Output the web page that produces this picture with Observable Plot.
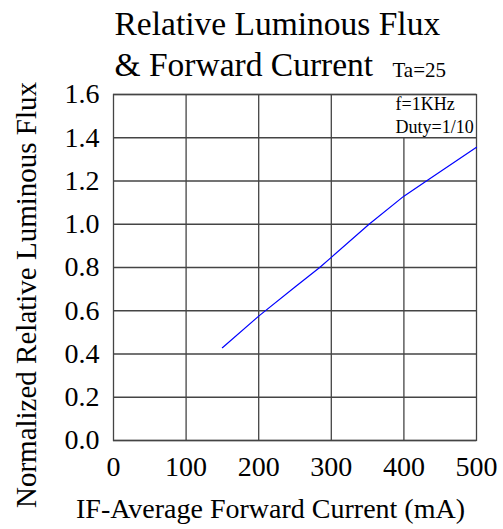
<!DOCTYPE html>
<html>
<head>
<meta charset="utf-8">
<script src="https://cdn.jsdelivr.net/npm/d3@7"></script>
<script src="https://cdn.jsdelivr.net/npm/@observablehq/plot@0.6"></script>
<style>
  html, body { margin: 0; padding: 0; background: #fff; }
  #chart { position: relative; width: 503px; height: 529px; }
</style>
</head>
<body>
<div id="chart"></div>
<script>
const currentMA = [150, 200, 250, 284, 300, 352, 400, 431, 500];
const relFlux = [0.429, 0.575, 0.71, 0.80, 0.847, 1.0, 1.13, 1.2, 1.356];
const xTicks = [0, 100, 200, 300, 400, 500];
const yTicks = [0, 0.2, 0.4, 0.6, 0.8, 1.0, 1.2, 1.4, 1.6];
const titleLines = ["Relative Luminous Flux", "& Forward Current"];
const tempNote = "Ta=25";
const condNotes = ["f=1KHz", "Duty=1/10"];
const xLabel = "IF-Average Forward Current (mA)";
const yLabel = "Normalized Relative Luminous Flux";

const data = currentMA.map((x, i) => ({x, y: relFlux[i]}));
// vertical grid: the 400 line stops at 1.4 (annotation area)
const vGrid = xTicks.filter(t => t > 0 && t < 500).map(t => ({x: t, y1: 0, y2: t === 400 ? 1.4 : 1.6}));
const hGrid = yTicks;

const gridColor = "#444";
const font = "Liberation Serif";

const chart = Plot.plot({
  width: 503,
  height: 529,
  marginLeft: 113,
  marginRight: 27,
  marginTop: 94,
  marginBottom: 89,
  style: {fontFamily: font, background: "#fff", color: "#000"},
  x: {domain: [0, 500]},
  y: {domain: [0, 1.6]},
  marks: [
    Plot.ruleY(hGrid, {stroke: gridColor, strokeWidth: 1.3}),
    Plot.ruleX(vGrid, {x: "x", y1: "y1", y2: "y2", stroke: gridColor, strokeWidth: 1.3}),
    Plot.frame({stroke: gridColor, strokeWidth: 1.3}),
    Plot.axisX({ticks: xTicks, tickSize: 0, tickPadding: 16, fontSize: "28px", fontFamily: font, label: null, tickFormat: d => String(d)}),
    Plot.axisY({ticks: yTicks, tickSize: 0, tickPadding: 14, fontSize: "28px", fontFamily: font, label: null, tickFormat: d => d.toFixed(1)}),
    Plot.line(data, {x: "x", y: "y", stroke: "#0000ff", strokeWidth: 1.2}),
    Plot.text([titleLines[0]], {text: d => d, frameAnchor: "top-left", textAnchor: "start", lineAnchor: "bottom", dx: 1, dy: -59.5, fontSize: "33.5px", fontFamily: font}),
    Plot.text([titleLines[1]], {text: d => d, frameAnchor: "top-left", textAnchor: "start", lineAnchor: "bottom", dx: 1, dy: -19, fontSize: "33.5px", fontFamily: font}),
    Plot.text([tempNote], {text: d => d, frameAnchor: "top-left", textAnchor: "start", lineAnchor: "bottom", dx: 279, dy: -18, fontSize: "21px", fontFamily: font}),
    Plot.text([condNotes[0]], {text: d => d, frameAnchor: "top-left", textAnchor: "start", lineAnchor: "bottom", dx: 282, dy: 15, fontSize: "18px", fontFamily: font}),
    Plot.text([condNotes[1]], {text: d => d, frameAnchor: "top-left", textAnchor: "start", lineAnchor: "bottom", dx: 282, dy: 38.5, fontSize: "18px", fontFamily: font}),
    Plot.text([xLabel], {text: d => d, frameAnchor: "bottom", textAnchor: "middle", lineAnchor: "bottom", dx: -24.5, dy: 77, fontSize: "28px", fontFamily: font}),
    Plot.text([yLabel], {text: d => d, frameAnchor: "left", textAnchor: "middle", lineAnchor: "middle", rotate: -90, dx: -87, dy: 27.5, fontSize: "29px", fontFamily: font})
  ]
});
chart.querySelectorAll("[font-size]").forEach(el => {
  const v = el.getAttribute("font-size");
  el.style.fontSize = /^[\d.]+$/.test(v) ? v + "px" : v;
});
document.getElementById("chart").appendChild(chart);
</script>
</body>
</html>
